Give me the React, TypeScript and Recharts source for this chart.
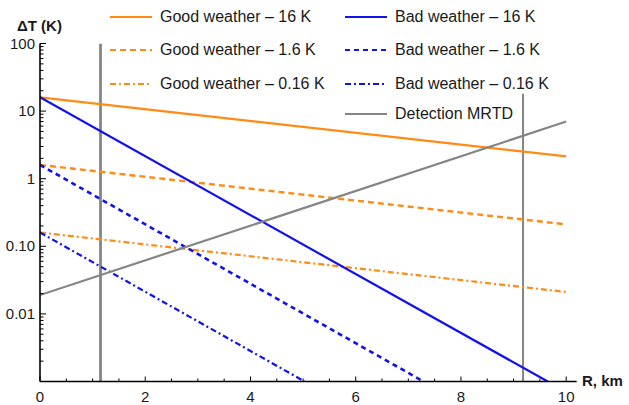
import React from 'react';
import { LineChart, Line, XAxis, YAxis } from 'recharts';

const ORANGE = '#ff8a14';
const BLUE = '#1212ee';
const GRAY = '#858585';
const FONT = 'Liberation Sans, Arial, Helvetica, sans-serif';

// R in km, dT in K (log scale)
const GOOD_R = [0, 10];
const GOOD_16K = [16, 2.14];
const GOOD_1_6K = [1.6, 0.211];
const GOOD_0_16K = [0.16, 0.0211];

// bad weather curves leave the plot through the bottom edge
const BAD_16K_R = [0, 9.65];
const BAD_16K = [16, 0.001];
const BAD_1_6K_R = [0, 7.29];
const BAD_1_6K = [1.6, 0.001];
const BAD_0_16K_R = [0, 5.03];
const BAD_0_16K = [0.16, 0.001];

const MRTD_R = [0, 10];
const MRTD = [0.019, 7.0];

// vertical range limits
const LIMIT_LEFT_R = [1.15, 1.15];
const LIMIT_LEFT = [0.001, 100];
const LIMIT_RIGHT_R = [9.18, 9.18];
const LIMIT_RIGHT = [0.001, 18];

const X_MAJOR = [0, 2, 4, 6, 8, 10];
const X_MINOR = [0.5, 1, 1.5, 2.5, 3, 3.5, 4.5, 5, 5.5, 6.5, 7, 7.5, 8.5, 9, 9.5];
const Y_MAJOR = [0.01, 0.1, 1, 10, 100];
const Y_LABELS = ['0.01', '0.10', '1', '10', '100'];
const Y_DECADES = [0.001, 0.01, 0.1, 1, 10];
const Y_STEPS = [2, 3, 4, 5, 6, 7, 8, 9];

const zip = (rs: number[], vs: number[]) => rs.map((r, i) => ({ r, v: vs[i] }));

const yMinor = Y_DECADES.flatMap((d) => Y_STEPS.map((s) => +(d * s).toPrecision(3)));
const yTicks = [0.001, ...Y_MAJOR, ...yMinor].sort((a, b) => a - b);
const xTicks = [...X_MAJOR, ...X_MINOR].sort((a, b) => a - b);

type Series = {
  name: string;
  data: { r: number; v: number }[];
  color: string;
  dash?: string;
  width: number;
};

const limits: Series[] = [
  { name: 'limitLeft', data: zip(LIMIT_LEFT_R, LIMIT_LEFT), color: GRAY, width: 2.8 },
  { name: 'limitRight', data: zip(LIMIT_RIGHT_R, LIMIT_RIGHT), color: GRAY, width: 2 },
];

const series: Series[] = [
  { name: 'Good weather \u2013 16 K', data: zip(GOOD_R, GOOD_16K), color: ORANGE, width: 2.2 },
  { name: 'Good weather \u2013 1.6 K', data: zip(GOOD_R, GOOD_1_6K), color: ORANGE, dash: '6 4', width: 2.4 },
  { name: 'Good weather \u2013 0.16 K', data: zip(GOOD_R, GOOD_0_16K), color: ORANGE, dash: '6 3 2 3', width: 2.2 },
  { name: 'Bad weather \u2013 16 K', data: zip(BAD_16K_R, BAD_16K), color: BLUE, width: 2.2 },
  { name: 'Bad weather \u2013 1.6 K', data: zip(BAD_1_6K_R, BAD_1_6K), color: BLUE, dash: '5 4', width: 2.6 },
  { name: 'Bad weather \u2013 0.16 K', data: zip(BAD_0_16K_R, BAD_0_16K), color: BLUE, dash: '6 3 2 3', width: 2.2 },
  { name: 'Detection MRTD', data: zip(MRTD_R, MRTD), color: GRAY, width: 2.2 },
];

const XTick = (props: any) => {
  const { x, y, payload } = props;
  const v = payload.value;
  const idx = X_MAJOR.indexOf(v);
  const len = idx >= 0 ? 5 : 3;
  return (
    <g>
      <line x1={x} x2={x} y1={y} y2={y - len} stroke="#000" strokeWidth={1} />
      {idx >= 0 && (
        <text x={x} y={y + 20} textAnchor="middle" fontSize={15} fontFamily={FONT} fill="#1a1a1a">
          {v}
        </text>
      )}
    </g>
  );
};

const YTick = (props: any) => {
  const { x, y, payload } = props;
  const v = payload.value;
  const idx = Y_MAJOR.findIndex((m) => Math.abs(m - v) < m * 1e-6);
  const len = idx >= 0 ? 6 : 3.5;
  return (
    <g>
      <line x1={x} x2={x + len} y1={y} y2={y} stroke="#000" strokeWidth={1} />
      {idx >= 0 && (
        <text x={x - 5} y={y + 5} textAnchor="end" fontSize={15} fontFamily={FONT} fill="#1a1a1a">
          {Y_LABELS[idx]}
        </text>
      )}
    </g>
  );
};

const legendCols = [
  { left: 110, items: series.slice(0, 3) },
  { left: 345, items: series.slice(3, 7) },
];
const LEGEND_ROWS = [17, 50, 84, 114];

const LegendSample = ({ s }: { s: Series }) => (
  <svg width={42} height={6} style={{ display: 'block' }}>
    <line x1={0} x2={42} y1={3} y2={3} stroke={s.color} strokeWidth={2.2} strokeDasharray={s.dash} />
  </svg>
);

export default function App() {
  return (
    <div style={{ position: 'relative', width: 629, height: 405, fontFamily: FONT }}>
      <style>{'html,body{overflow:hidden;margin:0;padding:0}'}</style>
      <LineChart width={629} height={405} margin={{ top: 43.5, right: 52.3, bottom: 0, left: 0 }}>
        <XAxis
          type="number"
          dataKey="r"
          domain={[0, 10.2]}
          allowDataOverflow
          ticks={xTicks}
          interval={0}
          tick={<XTick />}
          tickLine={false}
          tickSize={0}
          tickMargin={0}
          height={23.5}
          axisLine={{ stroke: '#000', strokeWidth: 1.6 }}
        />
        <YAxis
          type="number"
          dataKey="v"
          scale="log"
          domain={[0.001, 100]}
          allowDataOverflow
          ticks={yTicks}
          interval={0}
          tick={<YTick />}
          tickLine={false}
          tickSize={0}
          tickMargin={0}
          width={40}
          axisLine={{ stroke: '#000', strokeWidth: 1.6 }}
        />
        {limits.map((s) => (
          <Line
            key={s.name}
            data={s.data}
            dataKey="v"
            stroke={s.color}
            strokeWidth={s.width}
            dot={false}
            activeDot={false}
            isAnimationActive={false}
            legendType="none"
          />
        ))}
        {series.map((s) => (
          <Line
            key={s.name}
            name={s.name}
            data={s.data}
            dataKey="v"
            stroke={s.color}
            strokeWidth={s.width}
            strokeDasharray={s.dash}
            dot={false}
            activeDot={false}
            isAnimationActive={false}
          />
        ))}
      </LineChart>

      {legendCols.map((col) =>
        col.items.map((s, i) => (
          <div
            key={s.name}
            style={{
              position: 'absolute',
              left: col.left,
              top: LEGEND_ROWS[i] - 10,
              height: 20,
              display: 'flex',
              alignItems: 'center',
              fontSize: 16,
              color: '#1a1a1a',
              whiteSpace: 'nowrap',
            }}
          >
            <LegendSample s={s} />
            <span style={{ marginLeft: 8 }}>{s.name}</span>
          </div>
        ))
      )}

      <div style={{ position: 'absolute', left: 17, top: 17, fontSize: 15, fontWeight: 'bold', color: '#1a1a1a', whiteSpace: 'nowrap' }}>
        {'\u0394T (K)'}
      </div>
      <div style={{ position: 'absolute', left: 582, top: 372, fontSize: 15, fontWeight: 'bold', color: '#1a1a1a', whiteSpace: 'nowrap' }}>
        R, km
      </div>
    </div>
  );
}
